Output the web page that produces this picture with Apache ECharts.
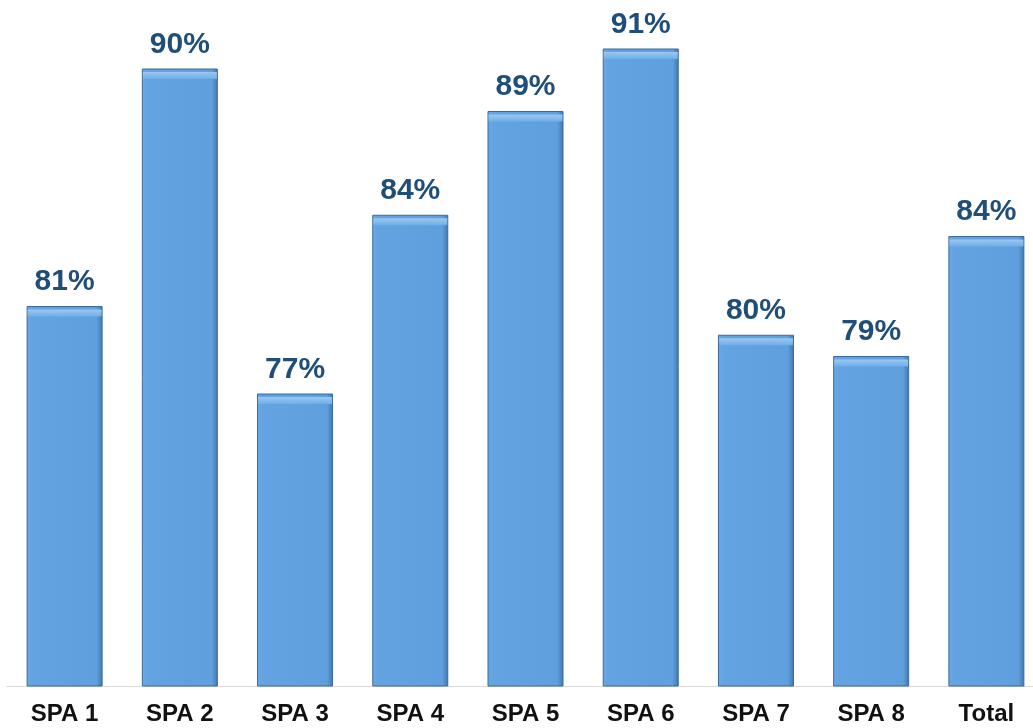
<!DOCTYPE html>
<html>
<head>
<meta charset="utf-8">
<script src="https://cdn.jsdelivr.net/npm/echarts@6/dist/echarts.min.js"></script>
<style>
  html, body { margin: 0; padding: 0; background: #fff; overflow: hidden; }
  #chart { width: 1045px; height: 728px; }
</style>
</head>
<body>
<div id="chart"></div>
<script>
const categories = ['SPA 1', 'SPA 2', 'SPA 3', 'SPA 4', 'SPA 5', 'SPA 6', 'SPA 7', 'SPA 8', 'Total']
// coverage (labels are rounded)
const coverage = [80.8, 90.3, 77.3, 84.45, 88.6, 91.1, 79.65, 78.8, 83.6]

const chart = echarts.init(document.getElementById('chart'))

const option = {
  animation: false,
  grid: {
    left: 7,
    right: 1,
    top: 36,
    bottom: 42
  },
  xAxis: {
    type: 'category',
    data: categories,
    axisTick: { show: false },
    axisLine: {
      lineStyle: { color: '#d9d9d9', width: 1 }
    },
    axisLabel: {
      color: '#111',
      fontFamily: 'Liberation Sans, Arial, sans-serif',
      fontWeight: 'bold',
      fontSize: 24,
      margin: 16
    }
  },
  yAxis: {
    type: 'value',
    min: 65.6,
    max: 91.6,
    show: false,
    splitLine: { show: false }
  },
  series: [
    {
      type: 'bar',
      data: coverage,
      barWidth: 76,
      itemStyle: {
        color: new echarts.graphic.LinearGradient(0, 0, 1, 0, [
          { offset: 0, color: '#6aa9e6' },
          { offset: 0.08, color: '#63a3e1' },
          { offset: 0.92, color: '#5f9fdd' },
          { offset: 1, color: '#3f77ad' }
        ]),
        borderColor: '#3a6a98',
        borderWidth: 1
      },
      label: {
        show: true,
        position: 'top',
        distance: 9,
        formatter: p => Math.round(p.value) + '%',
        color: '#1f4e79',
        fontFamily: 'Liberation Sans, Arial, sans-serif',
        fontWeight: 'bold',
        fontSize: 30
      }
    },
    {
      // bevel cap on top of each bar
      type: 'pictorialBar',
      data: coverage,
      symbol: 'rect',
      symbolSize: [74, 7],
      symbolPosition: 'end',
      symbolOffset: [0, '50%'],
      z: 3,
      itemStyle: {
        color: new echarts.graphic.LinearGradient(0, 0, 0, 1, [
          { offset: 0, color: '#9cc8f0' },
          { offset: 1, color: '#6eaee8' }
        ])
      },
      silent: true
    }
  ]
}

chart.setOption(option)
window.addEventListener('resize', () => chart.resize())
</script>
</body>
</html>
